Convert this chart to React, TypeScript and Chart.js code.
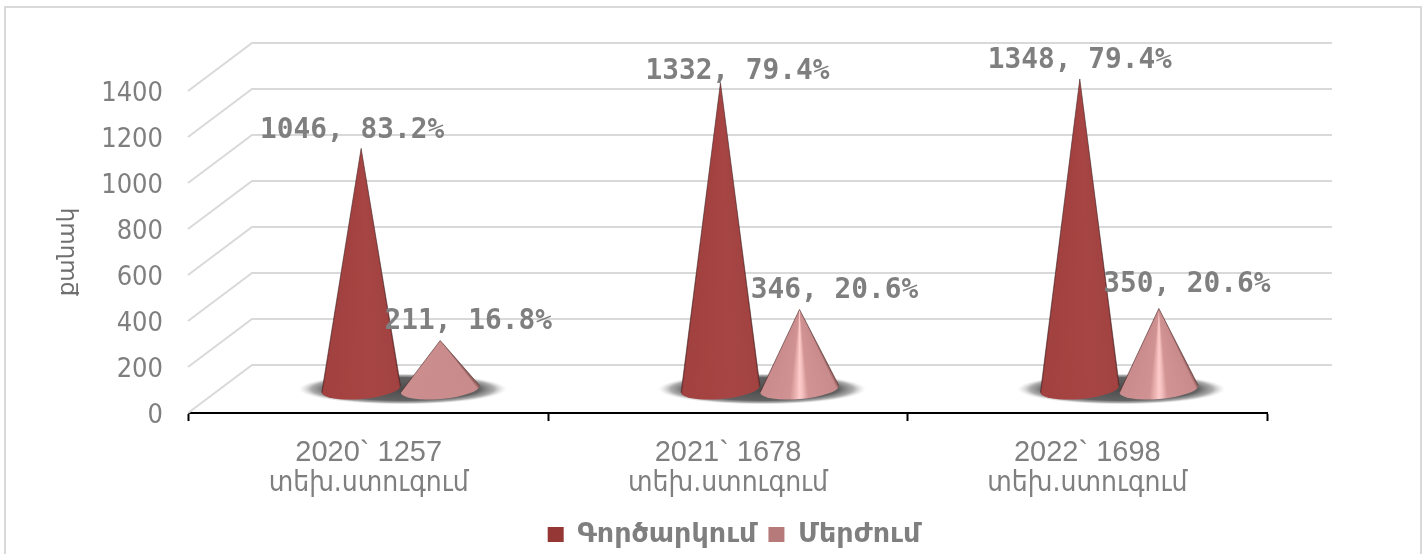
import React, { useEffect, useRef } from "react";
import { Chart, registerables } from "chart.js";

Chart.register(...registerables);

const yearLabels = ["2020` 1257", "2021` 1678", "2022` 1698"];
const checkLabel = "տեխ.ստուգում";
const seriesNames = ["Գործարկում", "Մերժում"];
const launched = [1046, 1332, 1348];
const rejected = [211, 346, 350];
const launchedShare = ["83.2", "79.4", "79.4"];
const rejectedShare = ["16.8", "20.6", "20.6"];
const axisTitle = "քանակ";

const GREY = "#7f7f7f";
const GRID = "#d9d9d9";
const DEPTH_X = 64;
const DEPTH_Y = -48;

// label shift from each apex, set by hand in the source chart
const labelShift = [
  [[-9, -18], [17, -11], [0, -18]],
  [[28, -19], [35, -19], [28, -24]],
];

type Stop = [number, string];
const redStops: Stop[] = [
  [-1, "#6a2c2b"], [-0.94, "#a24342"], [-0.3, "#a64544"], [0.3, "#a54341"], [0.92, "#a14140"], [1, "#5f2625"],
];
const pinkFlat: Stop[] = [
  [-1, "#94605f"], [-0.92, "#c98b8b"], [0.9, "#cb8d8d"], [1, "#8a5858"],
];
const pinkLit: Stop[] = [
  [-1, "#94605f"], [-0.92, "#c98b8b"], [-0.2, "#d19393"], [-0.07, "#f4bfbf"], [0, "#ffcaca"], [0.08, "#eeb5b5"], [0.22, "#d09292"], [0.9, "#c98b8b"], [1, "#8a5858"],
];

function drawCone(ctx: CanvasRenderingContext2D, bar: any, stops: Stop[]) {
  const cx = bar.x + DEPTH_X / 2;
  const baseY = bar.base + DEPTH_Y / 2;
  const apexY = bar.y + DEPTH_Y / 2;
  const rx = bar.width / 2;
  const ry = 10;
  const rot = (-5 * Math.PI) / 180;
  const h = baseY - apexY;
  const grad = (ctx as any).createConicGradient(0, cx, apexY);
  stops
    .map(([p, c]) => [0.25 + Math.atan((p * rx * 1.02) / h) / (2 * Math.PI), c] as [number, string])
    .sort((m, n) => m[0] - n[0])
    .forEach(([o, c]) => grad.addColorStop(o, c));
  const rightX = cx + rx * Math.cos(rot);
  const rightY = baseY + rx * Math.sin(rot);
  const leftX = cx - rx * Math.cos(rot);
  const leftY = baseY - rx * Math.sin(rot);
  ctx.save();
  ctx.beginPath();
  ctx.moveTo(cx, apexY);
  ctx.lineTo(rightX, rightY);
  ctx.ellipse(cx, baseY, rx, ry, rot, 0, Math.PI);
  ctx.closePath();
  ctx.fillStyle = grad;
  ctx.fill();
  ctx.lineWidth = 1;
  ctx.strokeStyle = "rgba(70,35,35,0.55)";
  ctx.beginPath();
  ctx.moveTo(leftX, leftY);
  ctx.lineTo(cx, apexY);
  ctx.lineTo(rightX, rightY);
  ctx.stroke();
  ctx.restore();
}

function drawShadow(ctx: CanvasRenderingContext2D, x: number, y: number) {
  const rx = 104;
  const ry = 15.5;
  ctx.save();
  ctx.translate(x, y);
  ctx.scale(rx, ry);
  const g = ctx.createRadialGradient(0, 0, 0, 0, 0, 1);
  g.addColorStop(0, "rgba(75,75,75,1)");
  g.addColorStop(0.74, "rgba(90,90,90,0.95)");
  g.addColorStop(0.88, "rgba(130,130,130,0.65)");
  g.addColorStop(1, "rgba(210,210,210,0)");
  ctx.fillStyle = g;
  ctx.beginPath();
  ctx.arc(0, 0, 1, 0, Math.PI * 2);
  ctx.fill();
  ctx.restore();
}

const conePlugin = {
  id: "cones",
  beforeDraw(chart: any) {
    const { ctx, width, height } = chart;
    ctx.save();
    ctx.fillStyle = "#ffffff";
    ctx.fillRect(0, 0, width, height);
    ctx.strokeStyle = GRID;
    ctx.lineWidth = 2;
    ctx.beginPath();
    ctx.moveTo(5, height + 4);
    ctx.lineTo(5, 7);
    ctx.lineTo(1421, 7);
    ctx.lineTo(1421, height + 4);
    ctx.stroke();
    ctx.restore();
  },
  beforeDatasetsDraw(chart: any) {
    const { ctx, chartArea, scales } = chart;
    ctx.save();
    ctx.strokeStyle = GRID;
    ctx.lineWidth = 2;
    scales.y.ticks.forEach((t: any) => {
      const y = scales.y.getPixelForValue(t.value);
      ctx.beginPath();
      ctx.moveTo(chartArea.left - 1, y);
      ctx.lineTo(chartArea.left + DEPTH_X - 1, y + DEPTH_Y);
      ctx.lineTo(chartArea.right + DEPTH_X + 1, y + DEPTH_Y);
      ctx.stroke();
    });
    ctx.restore();
  },
  beforeDatasetDraw() {
    return false;
  },
  afterDatasetsDraw(chart: any) {
    const { ctx, scales } = chart;
    const a = chart.getDatasetMeta(0).data;
    const b = chart.getDatasetMeta(1).data;
    a.forEach((bar: any, i: number) => {
      const mid = (bar.x + b[i].x) / 2 + DEPTH_X / 2 + 2;
      drawShadow(ctx, mid, bar.base + DEPTH_Y / 2);
    });
    a.forEach((bar: any, i: number) => {
      drawCone(ctx, bar, redStops);
      drawCone(ctx, b[i], i === 0 ? pinkFlat : pinkLit);
    });
    ctx.save();
    ctx.font = "bold 27.8px 'DejaVu Sans Mono'";
    ctx.fillStyle = GREY;
    ctx.textAlign = "center";
    ctx.textBaseline = "middle";
    [a, b].forEach((bars: any[], s: number) => {
      const vals = s === 0 ? launched : rejected;
      const share = s === 0 ? launchedShare : rejectedShare;
      bars.forEach((bar: any, i: number) => {
        const [dx, dy] = labelShift[s][i];
        ctx.fillText(`${vals[i]}, ${share[i]}%`, bar.x + DEPTH_X / 2 + dx, bar.y + DEPTH_Y / 2 + dy);
      });
    });
    // second line of each category label, in the face that carries Armenian
    ctx.font = "28px 'DejaVu Sans Condensed', 'DejaVu Sans'";
    ctx.textBaseline = "alphabetic";
    yearLabels.forEach((_, i) => {
      ctx.fillText(checkLabel, scales.x.getPixelForTick(i), scales.x.top + 78);
    });
    ctx.restore();
  },
};

export default function App() {
  const ref = useRef<HTMLCanvasElement>(null);
  useEffect(() => {
    const chart = new Chart(ref.current as HTMLCanvasElement, {
      type: "bar",
      data: {
        labels: yearLabels,
        datasets: [
          { label: seriesNames[0], data: launched, backgroundColor: "#953735", categoryPercentage: 0.44, barPercentage: 1 },
          { label: seriesNames[1], data: rejected, backgroundColor: "#b57a79", categoryPercentage: 0.44, barPercentage: 1 },
        ],
      },
      options: {
        responsive: false,
        animation: false,
        layout: { padding: { left: 42, right: 0, top: 91, bottom: -4 } },
        plugins: {
          tooltip: { enabled: false },
          legend: {
            position: "bottom",
            labels: {
              boxWidth: 16,
              boxHeight: 15,
              padding: 12,
              color: GREY,
              font: { family: "'DejaVu Sans'", size: 27, weight: "bold" },
            },
          },
        },
        scales: {
          x: {
            grid: { drawOnChartArea: false, drawTicks: true, tickLength: 8, tickColor: "#000000", tickWidth: 2, offset: true },
            border: { color: "#000000", width: 2 },
            ticks: {
              color: GREY,
              font: { family: "'Liberation Sans'", size: 29 },
              padding: 15,
              maxRotation: 0,
              autoSkip: false,
            },
            afterFit: (s: any) => { s.height = 96; },
          },
          y: {
            min: 0,
            max: 1400,
            grid: { display: false },
            border: { display: false },
            ticks: {
              stepSize: 200,
              padding: 18,
              labelOffset: 3,
              color: GREY,
              font: { family: "'DejaVu Sans Condensed', 'DejaVu Sans'", size: 27 },
              callback: (v: any) => String(v),
            },
            title: {
              display: true,
              text: axisTitle,
              color: "#6f6f6f",
              font: { family: "'DejaVu Sans'", size: 23 },
              padding: { top: 12, bottom: 0 },
            },
            afterFit: (s: any) => { s.width = 147; },
          },
          y2: {
            position: "right",
            display: true,
            min: 0,
            max: 1400,
            grid: { display: false },
            border: { display: false },
            ticks: { display: false },
            afterFit: (s: any) => { s.width = 159; },
          },
        },
      } as any,
      plugins: [conePlugin] as any,
    });
    return () => chart.destroy();
  }, []);
  return (
    <canvas
      ref={ref}
      width={1426}
      height={554}
      style={{ position: "absolute", left: 0, top: 0, display: "block" }}
    />
  );
}
